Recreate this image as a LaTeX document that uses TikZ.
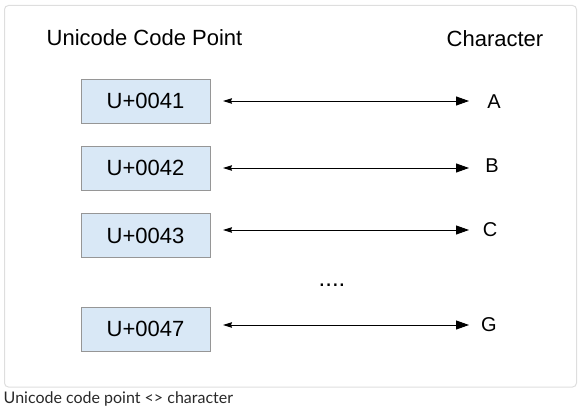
\documentclass[tikz,border=0pt]{standalone}
\usepackage{fontspec}
\setmainfont{Liberation Sans}
\newfontfamily\capfont{Lato}
\usetikzlibrary{arrows.meta,calc}
\definecolor{boxfill}{RGB}{217,232,246}
\definecolor{boxdraw}{RGB}{150,150,150}
\definecolor{framegray}{RGB}{222,222,222}
\definecolor{captext}{RGB}{40,40,40}
\tikzset{
  cpbox/.style={draw=boxdraw, fill=boxfill, line width=0.8pt, minimum width=129pt, minimum height=44pt, inner sep=0pt, font=\fontsize{22}{24}\selectfont},
  header/.style={inner sep=0pt, font=\fontsize{22}{24}\selectfont},
  charlabel/.style={inner sep=0pt, font=\fontsize{20}{22}\selectfont},
  link/.style={line width=0.9pt, {Stealth[length=9pt,width=5.5pt,inset=1pt]}-{Triangle[length=13pt,width=9pt]}},
}
\begin{document}
\begin{tikzpicture}[x=1pt,y=-1pt]
\useasboundingbox (0,0) rectangle (584,412);
\draw[framegray, line width=1pt, rounded corners=4pt] (4.5,5.5) rectangle (576.5,387);
\node[header] (hcode) at (144.5,37.5) {Unicode Code Point};
\node[header] (hchar) at (495,38.5) {Character};
\node[cpbox] (b1) at (145.5,101) {U+0041};
\node[cpbox] (b2) at (145.5,168) {U+0042};
\node[cpbox] (b3) at (145.5,235.5) {U+0043};
\node[cpbox] (b4) at (145.5,329) {U+0047};
\node[charlabel] (cA) at (494,101.5) {A};
\node[charlabel] (cB) at (492,166) {B};
\node[charlabel] (cC) at (490,230) {C};
\node[charlabel] (cG) at (489,325) {G};
\coordinate (l1) at (223,101); \coordinate (r1) at (469,101);
\coordinate (l2) at (223,168); \coordinate (r2) at (469,168);
\coordinate (l3) at (223,230); \coordinate (r3) at (469,230);
\coordinate (l4) at (223,325); \coordinate (r4) at (469,325);
\draw[link] (l1) -- (r1);
\draw[link] (l2) -- (r2);
\draw[link] (l3) -- (r3);
\draw[link] (l4) -- (r4);
\node[inner sep=0pt, font=\fontsize{24}{26}\selectfont] (dots) at (332,285.5) {....};
\node[anchor=west, inner sep=0pt, text=captext, font=\capfont\fontsize{16}{18}\selectfont] (cap) at (3.5,399) {Unicode code point <> character};
\end{tikzpicture}
\end{document}
